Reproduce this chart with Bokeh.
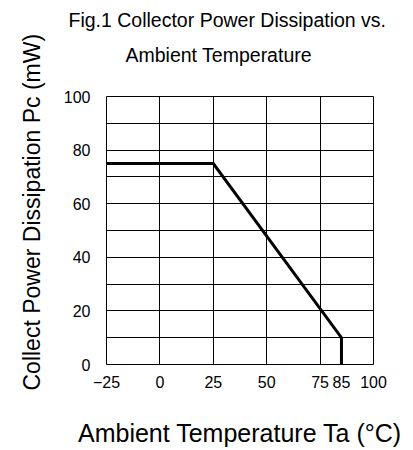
from bokeh.plotting import figure
from bokeh.models import Range1d, FixedTicker, Title
from bokeh.embed import file_html
from bokeh.resources import INLINE

# ---- data ----
temp_c = [-25, 25, 85, 85]
power_mw = [75, 75, 10, 0]

x_tick_values = [-25, 0, 25, 50, 75, 85, 100]
x_grid_values = [-25, 0, 25, 50, 75, 100]
y_tick_values = [0, 20, 40, 60, 80, 100]
y_grid_values = [0, 10, 20, 30, 40, 50, 60, 70, 80, 90, 100]

title_line1 = "Fig.1 Collector Power Dissipation vs."
title_line2 = "Ambient Temperature"
x_label = "Ambient Temperature Ta (\u00b0C)"
y_label = "Collect Power Dissipation Pc (mW)"

FONT = "Liberation Sans"

p = figure(width=413, height=450, output_backend="svg", toolbar_location=None,
           title=None, x_range=Range1d(-25, 100), y_range=Range1d(0, 100),
           min_border_left=103, min_border_right=40, min_border_top=96,
           min_border_bottom=86)

p.background_fill_color = "white"
p.border_fill_color = "white"
p.outline_line_color = "black"
p.outline_line_width = 1

# grids
p.xgrid.ticker = FixedTicker(ticks=x_grid_values)
p.ygrid.ticker = FixedTicker(ticks=y_grid_values)
for g in (p.xgrid, p.ygrid):
    g.grid_line_color = "black"
    g.grid_line_width = 1
    g.grid_line_alpha = 1.0

# axes
p.xaxis.ticker = FixedTicker(ticks=x_tick_values)
p.yaxis.ticker = FixedTicker(ticks=y_tick_values)
for ax in (p.xaxis, p.yaxis):
    ax.axis_line_color = None
    ax.major_tick_line_color = None
    ax.minor_tick_line_color = None
    ax.major_tick_out = 0
    ax.major_tick_in = 0
    ax.major_label_text_font = FONT
    ax.major_label_text_font_size = "16px"
    ax.major_label_text_color = "black"
    ax.axis_label_text_font = FONT
    ax.axis_label_text_font_style = "normal"
    ax.axis_label_text_color = "black"
p.xaxis.major_label_standoff = 11
p.yaxis.major_label_standoff = 16

p.xaxis.axis_label = x_label
p.xaxis.axis_label_text_font_size = "25px"
p.xaxis.axis_label_standoff = 28

# curve
p.line(temp_c, power_mw, line_color="black", line_width=3, line_join="miter")

# y-axis title, as a left-side title so that it can start below the frame
ytitle = Title(text=y_label, align="left", offset=-26, standoff=32,
               text_font=FONT, text_font_size="23px", text_font_style="normal",
               text_color="black")
p.add_layout(ytitle, "left")

# two-line title above the frame (first added sits nearest the frame)
spacer = Title(text=" ", text_font_size="10px", standoff=8)
t2 = Title(text=title_line2, align="left", offset=19, standoff=20,
           text_font=FONT, text_font_size="19.5px", text_font_style="normal",
           text_color="black")
t1 = Title(text=title_line1, align="left", offset=-38, standoff=2,
           text_font=FONT, text_font_size="19.5px", text_font_style="normal",
           text_color="black")
p.add_layout(spacer, "above")
p.add_layout(t2, "above")
p.add_layout(t1, "above")

open("out.html", "w").write(file_html(p, INLINE))
